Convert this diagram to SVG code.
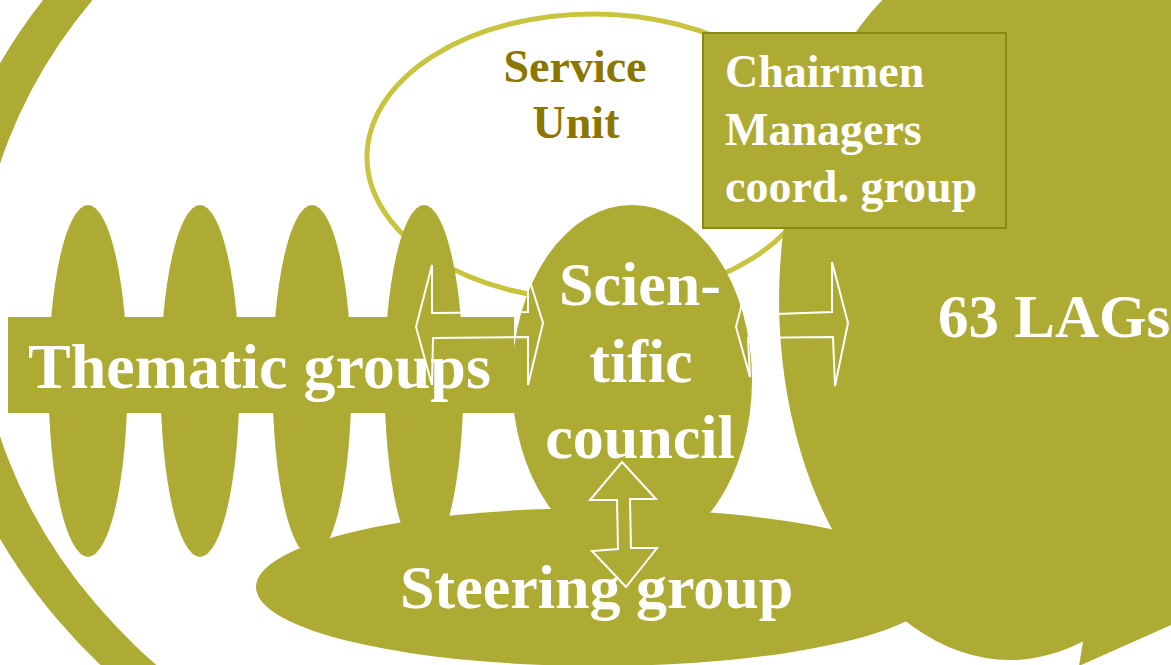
<svg xmlns="http://www.w3.org/2000/svg" width="1171" height="665" viewBox="0 0 1171 665">
  <style>
    .olive { fill: #AEAB35; }
    .lbl { font-family: 'Liberation Serif', 'Times New Roman', serif; font-weight: bold; fill: #FFFFFF; }
    .su { font-family: 'Liberation Serif', 'Times New Roman', serif; font-weight: bold; fill: #8B7600; font-size: 46px; }
    .arrow { fill: none; stroke: #FFFFFF; stroke-width: 2; stroke-linejoin: miter; }
  </style>
  <rect x="0" y="0" width="1171" height="665" fill="#FFFFFF"/>

  <g id="network-ring">
    <path class="olive" fill-rule="evenodd" d="M -66,301 a 740,576 0 1 0 1480,0 a 740,576 0 1 0 -1480,0 Z M -22,300 a 696,546 0 1 0 1392,0 a 696,546 0 1 0 -1392,0 Z"/>
  </g>

  <g id="service-unit">
    <ellipse cx="593" cy="157" rx="226" ry="143" fill="#FFFFFF" stroke="#C8C43F" stroke-width="5"/>
    <text class="su" x="575" y="82" text-anchor="middle">Service</text>
    <text class="su" x="576" y="138" text-anchor="middle">Unit</text>
  </g>

  <g id="thematic-groups">
    <ellipse class="olive" cx="88" cy="381" rx="39.5" ry="176"/>
    <ellipse class="olive" cx="200" cy="381" rx="39.5" ry="176"/>
    <ellipse class="olive" cx="312" cy="381" rx="39.5" ry="176"/>
    <ellipse class="olive" cx="424" cy="381" rx="39.5" ry="176"/>
    <rect class="olive" x="8" y="317" width="506" height="96"/>
  </g>

  <g id="steering-group">
    <ellipse class="olive" cx="598" cy="587" rx="342" ry="79"/>
  </g>

  <g id="scientific-council">
    <ellipse class="olive" cx="632" cy="380" rx="120" ry="175"/>
  </g>

  <g id="lags">
    <path class="olive" d="M 1010,-60 A 231,360 0 1 0 1083,641.6 L 1079,666 L 1171,625 L 1200,610 L 1200,-60 Z"/>
  </g>

  <g id="chairmen-managers">
    <rect x="703" y="33" width="303" height="195" fill="#AEAB35" stroke="#888A10" stroke-width="2"/>
    <text class="lbl" x="725" y="87" font-size="46">Chairmen</text>
    <text class="lbl" x="725" y="145" font-size="46">Managers</text>
    <text class="lbl" x="725" y="202" font-size="46">coord. group</text>
  </g>

  <g id="labels">
    <text class="lbl" x="28" y="388" font-size="64">Thematic groups</text>
    <text class="lbl" x="640" y="305" font-size="62" text-anchor="middle">Scien-</text>
    <text class="lbl" x="641" y="382" font-size="62" text-anchor="middle">tific</text>
    <text class="lbl" x="640" y="458" font-size="62" text-anchor="middle">council</text>
    <text class="lbl" x="938" y="337" font-size="61">63 LAGs</text>
    <text class="lbl" x="400" y="608" font-size="62">Steering group</text>
  </g>

  <g id="connectors">
    <polygon class="arrow" points="416,327 432,265 432,313 528,312 528,275 543,323 528,385 528,337 433,338 432,385"/>
    <polygon class="arrow" points="736,327 748,280 748,315 832,312 832,262 848,323 835,386 833,337 748,338 750,377"/>
    <polygon class="arrow" points="622,462 656,499 630,499 631,548 657,548 626,587 592,551 618,549 617,500 590,500"/>
  </g>
</svg>
